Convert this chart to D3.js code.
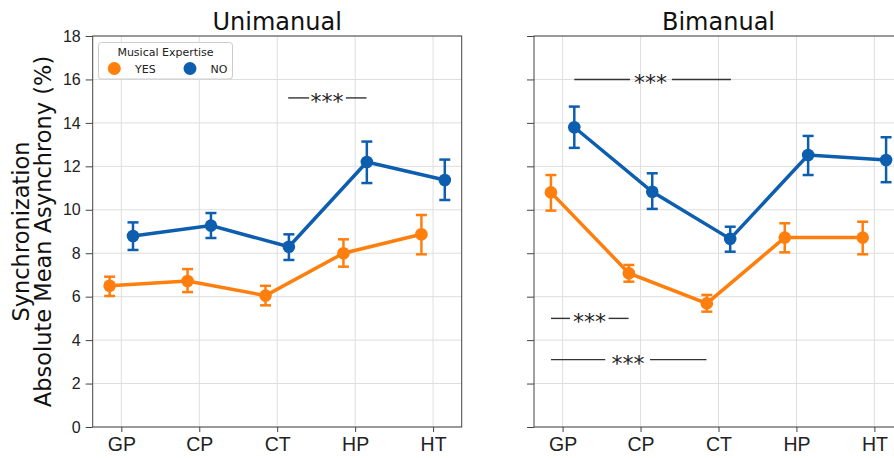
<!DOCTYPE html>
<html>
<head>
<meta charset="utf-8">
<script src="https://cdn.jsdelivr.net/npm/d3@7"></script>
<style>
  body { margin: 0; background: #fff; }
  svg { display: block; font-family: "DejaVu Sans", sans-serif; }
</style>
</head>
<body>
<svg id="chart" width="894" height="458"></svg>
<script>
// ---- data ----
const categories = ["GP", "CP", "CT", "HP", "HT"];
const groups = ["YES", "NO"];
const panels = ["Unimanual", "Bimanual"];
const yTicks = [0, 2, 4, 6, 8, 10, 12, 14, 16, 18];

// Unimanual
const uniYesMean = [6.50, 6.72, 6.05, 8.00, 8.87];
const uniYesLow  = [6.03, 6.21, 5.60, 7.38, 7.95];
const uniYesHigh = [6.92, 7.27, 6.50, 8.64, 9.76];
const uniNoMean  = [8.79, 9.27, 8.30, 12.20, 11.37];
const uniNoLow   = [8.15, 8.70, 7.69, 11.23, 10.45];
const uniNoHigh  = [9.42, 9.85, 8.87, 13.14, 12.31];

// Bimanual
const biYesMean = [10.80, 7.08, 5.69, 8.72, 8.72];
const biYesLow  = [9.96, 6.69, 5.31, 8.04, 7.95];
const biYesHigh = [11.60, 7.46, 6.08, 9.38, 9.45];
const biNoMean  = [13.80, 10.83, 8.66, 12.52, 12.29];
const biNoLow   = [12.85, 10.04, 8.07, 11.60, 11.27];
const biNoHigh  = [14.75, 11.68, 9.22, 13.40, 13.34];

const sigLabels = ["***", "***", "***", "***"];

const colors = { YES: "#ff7f0e", NO: "#0d5eaf" };

// ---- layout ----
const svg = d3.select("#chart");
const plotW = 369, plotTop = 36, plotBottom = 427;
const panelLeft = [92.7, 534];
const y = d3.scaleLinear().domain([0, 18]).range([plotBottom, plotTop]);

const panelData = [
  { YES: { m: uniYesMean, lo: uniYesLow, hi: uniYesHigh }, NO: { m: uniNoMean, lo: uniNoLow, hi: uniNoHigh } },
  { YES: { m: biYesMean, lo: biYesLow, hi: biYesHigh }, NO: { m: biNoMean, lo: biNoLow, hi: biNoHigh } }
];

const dodge = { YES: -0.15, NO: 0.15 };
const xs = panelLeft.map(x0 => d3.scaleLinear().domain([-0.367, 4.367]).range([x0, x0 + plotW]));

panels.forEach((title, pi) => {
  const x0 = panelLeft[pi];
  const x = xs[pi];
  const g = svg.append("g");

  // grid
  g.selectAll(".gy").data(yTicks).join("line")
    .attr("x1", x0).attr("x2", x0 + plotW)
    .attr("y1", d => y(d)).attr("y2", d => y(d))
    .attr("stroke", "#dedede").attr("stroke-width", 1);
  g.selectAll(".gx").data(categories).join("line")
    .attr("x1", (d, i) => x(i)).attr("x2", (d, i) => x(i))
    .attr("y1", plotTop).attr("y2", plotBottom)
    .attr("stroke", "#dedede").attr("stroke-width", 1);

  // axes
  const yAxis = d3.axisLeft(y).tickValues(yTicks).tickSize(7).tickPadding(5)
    .tickFormat(pi === 0 ? d3.format("d") : () => "");
  const ya = g.append("g").attr("transform", `translate(${x0},0)`).call(yAxis);
  ya.select(".domain").remove();
  ya.selectAll("line").attr("stroke", "#444");
  ya.selectAll("text").style("font-size", "16px").attr("fill", "#222");

  const xAxis = d3.axisBottom(x).tickValues(d3.range(categories.length))
    .tickFormat(i => categories[i]).tickSize(5).tickPadding(5);
  const xa = g.append("g").attr("transform", `translate(0,${plotBottom})`).call(xAxis);
  xa.select(".domain").remove();
  xa.selectAll("line").attr("stroke", "#444");
  xa.selectAll("text").style("font-size", "19.5px").attr("fill", "#222");

  // frame
  g.append("rect").attr("x", x0).attr("y", plotTop).attr("width", plotW).attr("height", plotBottom - plotTop)
    .attr("fill", "none").attr("stroke", "#444").attr("stroke-width", 1);

  // title
  g.append("text").attr("x", x0 + plotW / 2).attr("y", 29.5).attr("text-anchor", "middle")
    .style("font-size", "24px").attr("fill", "#111").text(title);

  // series
  groups.forEach(grp => {
    const s = panelData[pi][grp];
    const c = colors[grp];
    const pts = s.m.map((v, i) => ({ xi: i + dodge[grp], v, lo: s.lo[i], hi: s.hi[i] }));
    g.append("path").datum(pts)
      .attr("d", d3.line().x(d => x(d.xi)).y(d => y(d.v)))
      .attr("fill", "none").attr("stroke", c).attr("stroke-width", 3.5);
    const eb = g.selectAll(null).data(pts).join("g");
    eb.append("line").attr("x1", d => x(d.xi)).attr("x2", d => x(d.xi))
      .attr("y1", d => y(d.lo)).attr("y2", d => y(d.hi)).attr("stroke", c).attr("stroke-width", 2.5);
    eb.append("line").attr("x1", d => x(d.xi) - 5.5).attr("x2", d => x(d.xi) + 5.5)
      .attr("y1", d => y(d.lo)).attr("y2", d => y(d.lo)).attr("stroke", c).attr("stroke-width", 2.5);
    eb.append("line").attr("x1", d => x(d.xi) - 5.5).attr("x2", d => x(d.xi) + 5.5)
      .attr("y1", d => y(d.hi)).attr("y2", d => y(d.hi)).attr("stroke", c).attr("stroke-width", 2.5);
    eb.append("circle").attr("cx", d => x(d.xi)).attr("cy", d => y(d.v)).attr("r", 6.3).attr("fill", c);
  });
});

// y label
svg.append("text").attr("transform", "translate(28.5,231.5) rotate(-90)").attr("text-anchor", "middle")
  .style("font-size", "22.5px").attr("fill", "#111").text("Synchronization");
svg.append("text").attr("transform", "translate(50.5,231.5) rotate(-90)").attr("text-anchor", "middle")
  .style("font-size", "22.5px").attr("fill", "#111").text("Absolute Mean Asynchrony (%)");

// significance annotations: [panel, yValue, leftLineStart, leftLineEnd, textCenter, rightLineStart, rightLineEnd] (category units)
const sigs = [
  [0, 15.15, 2.141, 2.410, 2.640, 2.881, 3.146],
  [1, 16.0, 0.150, 0.864, 1.128, 1.403, 2.159],
  [1, 5.0, -0.149, 0.095, 0.346, 0.590, 0.846],
  [1, 3.1, -0.149, 0.547, 0.838, 1.121, 1.846]
];
sigs.forEach((s, k) => {
  const [pi, v, a1, a2, tc, b1, b2] = s;
  const x = xs[pi];
  svg.append("line").attr("x1", x(a1)).attr("x2", x(a2)).attr("y1", y(v)).attr("y2", y(v))
    .attr("stroke", "#333").attr("stroke-width", 1.4);
  svg.append("line").attr("x1", x(b1)).attr("x2", x(b2)).attr("y1", y(v)).attr("y2", y(v))
    .attr("stroke", "#333").attr("stroke-width", 1.4);
  svg.append("text").attr("x", x(tc)).attr("y", y(v) + 11).attr("text-anchor", "middle")
    .style("font-size", "22px").attr("fill", "#222").text(sigLabels[k]);
});

// legend
const lg = svg.append("g");
lg.append("rect").attr("x", 98.5).attr("y", 42.5).attr("width", 134).attr("height", 36.5).attr("rx", 3)
  .attr("fill", "rgba(255,255,255,0.85)").attr("stroke", "#ccc");
lg.append("text").attr("x", 165.5).attr("y", 55.5).attr("text-anchor", "middle")
  .style("font-size", "11px").attr("fill", "#222").text("Musical Expertise");
const legX = [{ g: "YES", cx: 114.3, tx: 135 }, { g: "NO", cx: 190, tx: 210.5 }];
legX.forEach(l => {
  lg.append("circle").attr("cx", l.cx).attr("cy", 68.5).attr("r", 6.5).attr("fill", colors[l.g]);
  lg.append("text").attr("x", l.tx).attr("y", 72.5).style("font-size", "11px").attr("fill", "#222").text(l.g);
});
</script>
</body>
</html>
